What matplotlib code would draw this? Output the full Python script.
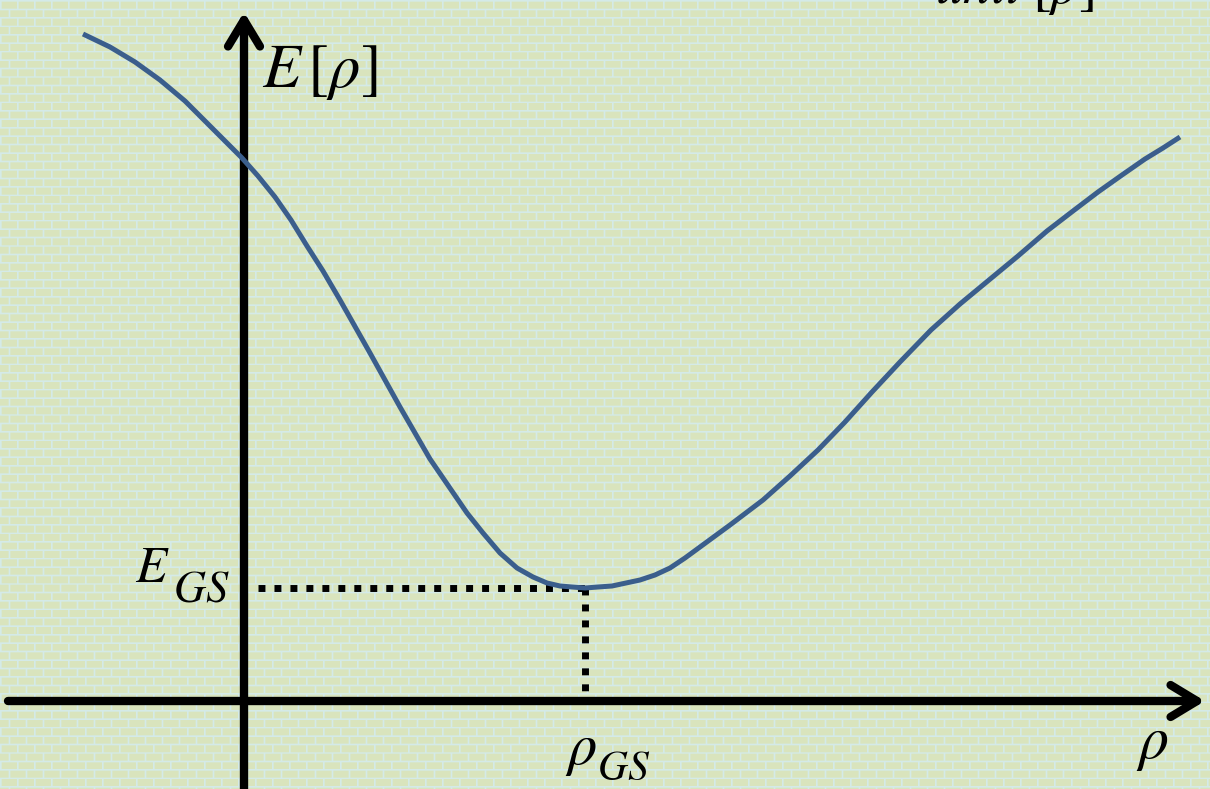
import numpy as np
import matplotlib
matplotlib.use("Agg")
import matplotlib.pyplot as plt

plt.rcParams['mathtext.fontset'] = 'stix'

# energy functional E[rho] sampled along the density axis
rho = [-1.61, -1.34, -1.09, -0.84, -0.59, -0.34, -0.02, 0.14, 0.31, 0.47,
       0.63, 0.79, 0.96, 1.26, 1.56, 1.86, 2.23, 2.39, 2.56, 2.73,
       2.89, 3.03, 3.16, 3.28, 3.41, 3.54, 3.68, 3.82, 3.96, 4.11,
       4.26, 4.41, 4.56, 4.86, 5.19, 5.46, 5.74, 6.01, 6.28, 6.56,
       6.87, 7.16, 7.45, 7.74, 8.03, 8.29, 8.54, 8.78, 9.01, 9.19, 9.36]
energy = [6.67, 6.54, 6.39, 6.21, 6.00, 5.75, 5.43, 5.25, 5.04, 4.81,
          4.55, 4.30, 4.01, 3.48, 2.94, 2.42, 1.88, 1.68, 1.48, 1.33,
          1.24, 1.18, 1.15, 1.14, 1.13, 1.14, 1.15, 1.18, 1.21, 1.26,
          1.33, 1.43, 1.54, 1.76, 2.01, 2.25, 2.51, 2.79, 3.09, 3.39,
          3.71, 3.97, 4.21, 4.45, 4.70, 4.90, 5.09, 5.26, 5.42, 5.53, 5.64]

# ground state = minimum of the curve
i_gs = int(np.argmin(energy))
rho_gs = rho[i_gs]
e_gs = energy[i_gs]

W, H = 1210, 789
fig = plt.figure(figsize=(W / 100, H / 100), dpi=100)

# brick wall background
ss = 3
yy, xx = np.mgrid[0:H * ss, 0:W * ss] / ss
row_h, brick_w, gap = 8.45, 17.0, 1.6
row = np.floor(yy / row_h)
xs = xx + (row % 2) * brick_w / 2
mortar = ((yy % row_h) < gap) | ((xs % brick_w) < gap)
mortar = mortar.reshape(H, ss, W, ss).mean(axis=(1, 3))[..., None]
brick_col = np.array([217, 228, 189]) / 255
mortar_col = np.array([212, 234, 232]) / 255
bg = brick_col * (1 - mortar) + mortar_col * mortar
fig.figimage(bg, xo=0, yo=0, zorder=-10)

ax = fig.add_axes([0, 0, 1, 1])
ax.set_facecolor('none')
ax.set_xlim(-2.44, 9.66)
ax.set_ylim(-0.88, 7.01)
ax.axis('off')

# axes with open arrow heads
arrow = dict(arrowstyle='->, head_length=1.9, head_width=1.15', lw=6,
             color='black', shrinkA=0, shrinkB=0, mutation_scale=10,
             capstyle='round', joinstyle='round')
ax.annotate('', xy=(9.61, 0), xytext=(-2.36, 0), arrowprops=arrow)
ax.annotate('', xy=(0, 6.89), xytext=(0, -0.95), arrowprops=arrow,
            annotation_clip=False)

ax.plot(rho, energy, color='#3b5e8c', lw=3.6, solid_joinstyle='round',
        solid_capstyle='butt', zorder=3)

# dotted guides to the minimum
ax.plot([0.14, rho_gs], [e_gs, e_gs], color='black', lw=5,
        linestyle=(0, (1, 1.3)), dash_capstyle='butt', zorder=2)
ax.plot([rho_gs, rho_gs], [e_gs, 0], color='black', lw=5,
        linestyle=(0, (1, 1.3)), dash_capstyle='butt', zorder=2)

# labels (subscripts drawn separately so they can be larger)
ax.text(0.18, 6.14, r'$E\,[\rho]$', fontsize=45, ha='left', va='baseline')
ax.text(-1.09, 1.19, r'$E$', fontsize=37, ha='left', va='baseline')
ax.text(-0.71, 0.99, r'$GS$', fontsize=32, ha='left', va='baseline')
ax.text(3.21, -0.63, r'$\rho$', fontsize=42, ha='left', va='baseline')
ax.text(3.53, -0.79, r'$GS$', fontsize=30, ha='left', va='baseline')
ax.text(9.08, -0.57, r'$\rho$', fontsize=43, ha='center', va='baseline')
ax.text(6.91, 6.98, r'$unit\;[\rho]$', fontsize=40, ha='left', va='baseline')

plt.savefig("out.png", dpi=100)
